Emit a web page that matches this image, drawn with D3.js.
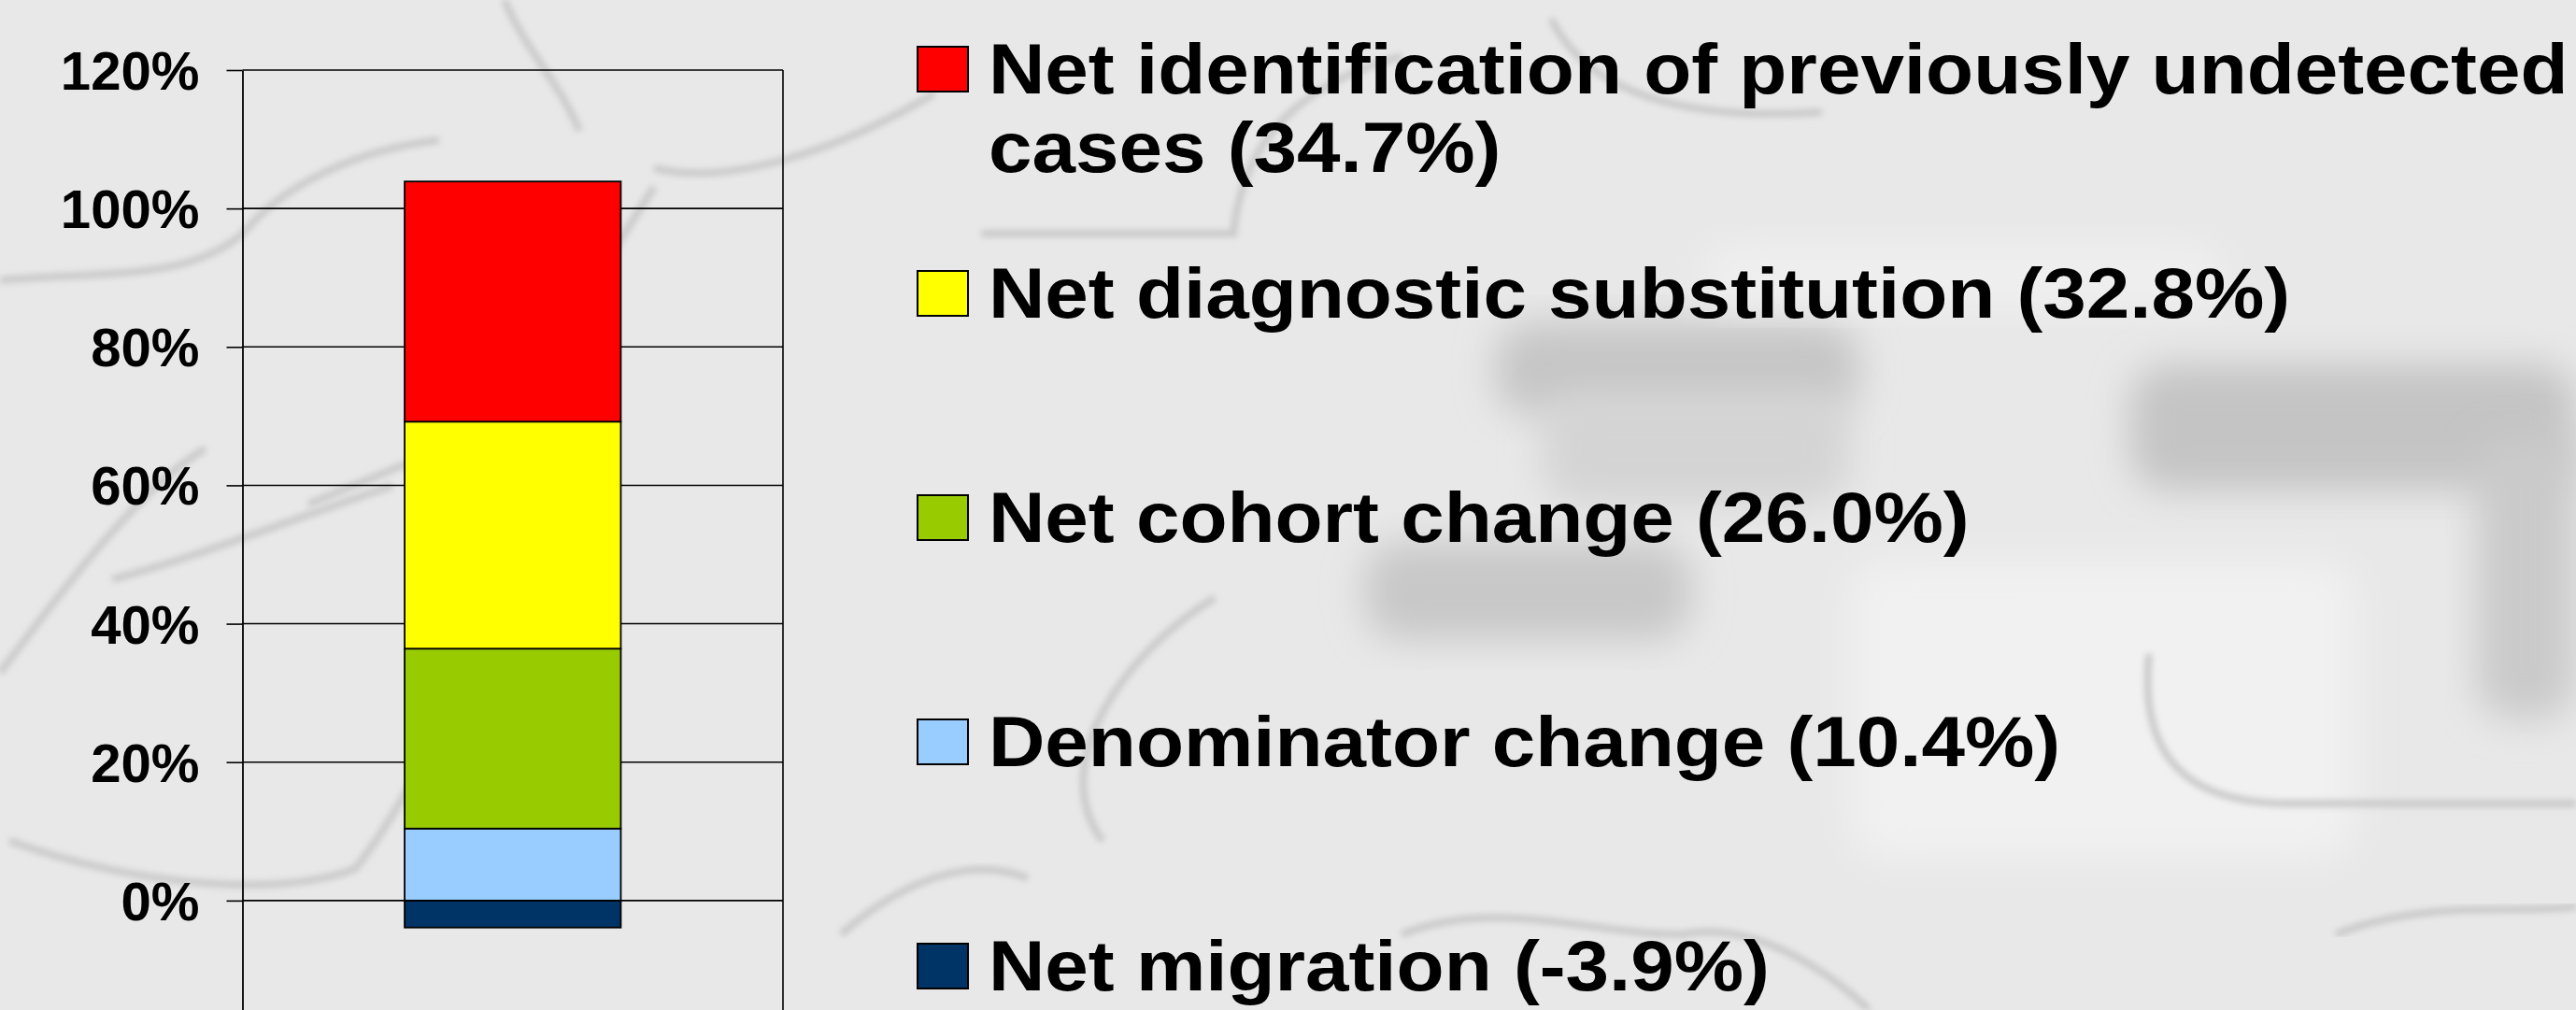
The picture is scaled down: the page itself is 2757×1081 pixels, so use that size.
<!DOCTYPE html>
<html>
<head>
<meta charset="utf-8">
<style>
html, body { margin: 0; padding: 0; background: #e8e8e8; }
svg { display: block; }
.axis text { font-family: "Liberation Sans", Arial, sans-serif; font-weight: bold; fill: #000; }
.legend text { font-family: "Liberation Sans", Arial, sans-serif; font-weight: bold; fill: #000; }
</style>
</head>
<body>
<svg width="2757" height="1081"></svg>
<script src="https://cdn.jsdelivr.net/npm/d3@7/dist/d3.min.js"></script>
<script>
// components of the change, top of the legend first
var seriesNames = [
  "Net identification of previously undetected cases",
  "Net diagnostic substitution",
  "Net cohort change",
  "Denominator change",
  "Net migration"
];
var seriesValues = [34.7, 32.8, 26.0, 10.4, -3.9];
var seriesColors = ["#ff0000", "#ffff00", "#99cc00", "#99ccff", "#003366"];
var tickValues = [0, 20, 40, 60, 80, 100, 120];
var category = "Total";

var svg = d3.select("svg"),
    W = +svg.attr("width"),
    H = +svg.attr("height");

// legend text on the slide is a bit wider than plain Arial
var tickStretch = 1.02, legendStretch = 1.1;

// background with some faint puzzle shapes
var defs = svg.append("defs");
defs.append("filter").attr("id", "blur").attr("x", "-30%").attr("y", "-30%").attr("width", "160%").attr("height", "160%")
  .append("feGaussianBlur").attr("stdDeviation", 20);
defs.append("filter").attr("id", "soft")
  .append("feGaussianBlur").attr("stdDeviation", 3);

svg.append("rect").attr("width", W).attr("height", H).attr("fill", "#e8e8e8");

var deco = svg.append("g");
var shades = [
  {x: 1600, y: 345, w: 390, h: 100, c: "#c6c6c6"},
  {x: 1650, y: 420, w: 330, h: 120, c: "#d4d4d4"},
  {x: 2280, y: 390, w: 477, h: 135, c: "#c4c4c4"},
  {x: 1460, y: 580, w: 350, h: 105, c: "#c8c8c8"},
  {x: 2050, y: 665, w: 110, h: 95, c: "#c8c8c8"},
  {x: 2650, y: 470, w: 107, h: 300, c: "#cacaca"},
  {x: 1980, y: 600, w: 540, h: 320, c: "#f1f1f1"},
  {x: 1820, y: 260, w: 560, h: 70, c: "#efefef"}
];
deco.selectAll("rect").data(shades).enter().append("rect")
  .attr("x", function(d) { return d.x; })
  .attr("y", function(d) { return d.y; })
  .attr("width", function(d) { return d.w; })
  .attr("height", function(d) { return d.h; })
  .attr("rx", 40)
  .attr("fill", function(d) { return d.c; })
  .attr("filter", "url(#blur)");

var outlines = [
  "M0,300 C120,290 200,300 260,250 C300,200 380,160 470,150",
  "M0,720 C60,640 150,520 220,480",
  "M120,620 C200,600 300,560 420,520",
  "M10,900 C150,950 300,960 380,930 C420,880 450,820 470,780",
  "M330,540 C420,500 520,470 560,420 L700,200",
  "M700,180 C780,200 900,160 1000,100",
  "M540,0 C560,50 600,90 620,140",
  "M1180,900 C1120,820 1200,700 1300,640",
  "M1050,250 L1320,250 C1330,150 1390,90 1500,60",
  "M1500,1000 C1600,960 1700,1000 1800,1000 C1900,980 2000,1080 2000,1081",
  "M2300,700 C2290,800 2330,860 2450,860 L2757,860",
  "M2500,1000 C2600,960 2700,980 2757,970",
  "M900,1000 C980,930 1050,920 1100,940",
  "M1660,20 C1700,100 1800,130 1950,120"
];
deco.selectAll("path").data(outlines).enter().append("path")
  .attr("d", function(d) { return d; })
  .attr("fill", "none")
  .attr("stroke", "#cbcbcb")
  .attr("stroke-width", 8)
  .attr("filter", "url(#soft)");

// plot area
var plot = {left: 259.5, right: 838, top: 75, bottom: 1112};

var y = d3.scaleLinear()
    .domain([-20, 120])
    .range([plot.bottom, plot.top]);

var x = d3.scaleBand()
    .domain([category])
    .range([plot.left, plot.right])
    .padding(0.4286);

// gridlines
svg.append("g")
  .selectAll("line")
  .data(tickValues)
  .enter().append("line")
    .attr("x1", plot.left)
    .attr("x2", plot.right)
    .attr("y1", function(d) { return y(d); })
    .attr("y2", function(d) { return y(d); })
    .attr("stroke", "#000")
    .attr("stroke-width", 1.6);

// right frame
svg.append("line")
  .attr("x1", plot.right).attr("x2", plot.right)
  .attr("y1", y(120)).attr("y2", y(-20))
  .attr("stroke", "#000").attr("stroke-width", 1.6);

// stacked bar
var row = {};
row.cat = category;
seriesNames.forEach(function(n, i) { row[n] = seriesValues[i]; });
var stackKeys = seriesNames.slice().reverse();

var stacked = d3.stack()
    .keys(stackKeys)
    .offset(d3.stackOffsetDiverging)([row]);

svg.append("g")
  .selectAll("g")
  .data(stacked)
  .enter().append("g")
    .attr("fill", function(d) { return seriesColors[seriesNames.indexOf(d.key)]; })
  .selectAll("rect")
  .data(function(d) { return d; })
  .enter().append("rect")
    .attr("x", function(d) { return x(d.data.cat); })
    .attr("y", function(d) { return y(d[1]); })
    .attr("height", function(d) { return y(d[0]) - y(d[1]); })
    .attr("width", x.bandwidth())
    .attr("stroke", "#000")
    .attr("stroke-width", 1.8);

// y axis
var axis = svg.append("g")
    .attr("class", "axis")
    .attr("transform", "translate(" + plot.left + ",0)")
    .call(d3.axisLeft(y)
      .tickValues(tickValues)
      .tickSizeInner(17)
      .tickSizeOuter(0)
      .tickPadding(30)
      .tickFormat(function(d) { return d + "%"; }));

axis.select(".domain").attr("stroke", "#000").attr("stroke-width", 1.8);
axis.selectAll(".tick line").attr("stroke", "#000").attr("stroke-width", 1.6);
axis.selectAll(".tick text")
    .attr("font-size", 57)
    .attr("x", -46 / tickStretch)
    .attr("dy", "0.36em")
    .attr("transform", "scale(" + tickStretch + ",1)");

// legend
var legendX = 982, legendTop = 100, legendStep = 240, lineGap = 84, maxTextW = 1700;

var legend = svg.append("g")
    .attr("class", "legend")
  .selectAll("g")
  .data(seriesNames)
  .enter().append("g")
    .attr("transform", function(d, i) { return "translate(" + legendX + "," + (legendTop + i * legendStep) + ")"; });

legend.append("rect")
    .attr("x", 0)
    .attr("y", -50)
    .attr("width", 54)
    .attr("height", 48)
    .attr("fill", function(d, i) { return seriesColors[i]; })
    .attr("stroke", "#000")
    .attr("stroke-width", 2);

legend.each(function(d, i) {
  var label = d + " (" + seriesValues[i].toFixed(1) + "%)";
  var t = d3.select(this).append("text")
      .attr("font-size", 76)
      .attr("transform", "translate(76,0) scale(" + legendStretch + ",1)");
  var words = label.split(" "), line = [], lineNo = 0;
  var tspan = t.append("tspan").attr("x", 0).attr("y", 0);
  words.forEach(function(w) {
    line.push(w);
    tspan.text(line.join(" "));
    if (tspan.node().getComputedTextLength() * legendStretch > maxTextW && line.length > 1) {
      line.pop();
      tspan.text(line.join(" "));
      line = [w];
      lineNo++;
      tspan = t.append("tspan").attr("x", 0).attr("y", lineNo * lineGap).text(w);
    }
  });
});
</script>
</body>
</html>
